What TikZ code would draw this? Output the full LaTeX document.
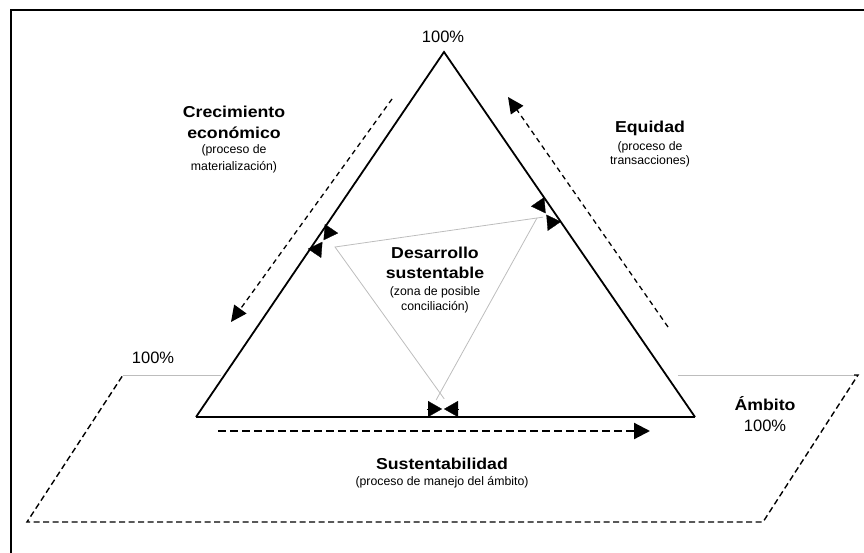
\documentclass[tikz,border=0pt]{standalone}
\usepackage{fontspec}
\setmainfont{Liberation Sans}
\newfontfamily\widebold[FakeStretch=1.12]{Liberation Sans Bold}
\usetikzlibrary{arrows.meta,calc}
\definecolor{lightline}{HTML}{BDBDBD}
\tikzset{
  frameline/.style={line width=2pt,line cap=rect},
  mainside/.style={line width=1.8pt,line join=miter},
  inner/.style={draw=lightline,line width=0.8pt},
  plane/.style={line width=1.4pt,dash pattern=on 6pt off 3.5pt},
  planetop/.style={draw=lightline,line width=0.9pt},
  dasharrow/.style={line width=1.3pt,dash pattern=on 5pt off 4pt,-{Triangle[length=16pt,width=15pt]}},
  basearrow/.style={line width=2.2pt,dash pattern=on 8pt off 4pt,-{Triangle[length=16pt,width=16pt]}},
  pairtip/.style={line width=0.3pt,-{Triangle[length=14pt,width=16pt]}},
  head/.style={anchor=base,font=\widebold\fontsize{15.8}{18}\selectfont},
  sub/.style={anchor=base,font=\fontsize{12.3}{14}\selectfont},
  pct/.style={anchor=base,font=\fontsize{16.5}{18}\selectfont}
}
\begin{document}
\begin{tikzpicture}[x=1pt,y=1pt]
\useasboundingbox (0,0) rectangle (864,552);
% frame
\coordinate (f1) at (11,0);
\coordinate (f2) at (11,542);
\coordinate (f3) at (864,542);
\draw[frameline] (f1) -- (f2) -- (f3);
% plane
\coordinate (p1) at (123,177);
\coordinate (p2) at (27,30);
\coordinate (p3) at (763,30);
\coordinate (p4) at (858,177);
\coordinate (pl) at (221,177);
\coordinate (pr) at (678,177);
\draw[planetop] (p1) -- (pl);
\draw[planetop] (pr) -- (p4);
\draw[plane] ($(p4)+(-4,0)$) -- (p4) -- (p3) -- (p2) -- (p1);
% main triangle
\coordinate (A) at (444,500);
\coordinate (B) at (196,135);
\coordinate (C) at (695,135);
\draw[mainside] (B) -- (A) -- (C);
\draw[line width=2.6pt] (B) -- (C);
% inner triangle
\coordinate (L) at (335,305);
\coordinate (R) at (537,334);
\coordinate (D) at (440,159);
\draw[inner] ($(D)!-0.04!(L)$) -- (L) -- ($(L)!1.03!(R)$);
\draw[inner] ($(D)!-0.04!(R)$) -- (R);
% arrow pairs
\coordinate (lp1) at (331.5,323.4);
\coordinate (lt1) at (323.6,311.8);
\coordinate (lp2) at (314.5,298.6);
\coordinate (lt2) at (322.4,310.2);
\draw[pairtip] (lp1) -- (lt1);
\draw[pairtip] (lp2) -- (lt2);
\coordinate (rp1) at (537.6,350.3);
\coordinate (rt1) at (545.6,338.7);
\coordinate (rp2) at (554.4,325.7);
\coordinate (rt2) at (546.4,337.3);
\draw[pairtip] (rp1) -- (rt1);
\draw[pairtip] (rp2) -- (rt2);
\coordinate (bp1) at (427,143);
\coordinate (bt1) at (442,143);
\coordinate (bp2) at (459,143);
\coordinate (bt2) at (444,143);
\draw[pairtip] (bp1) -- (bt1);
\draw[pairtip] (bp2) -- (bt2);
% dashed process arrows
\coordinate (ls) at (392,453);
\coordinate (le) at (231,230);
\draw[dasharrow] (ls) -- (le);
\coordinate (rs) at (668,225);
\coordinate (re) at (508,455);
\draw[dasharrow] (rs) -- (re);
\coordinate (bs) at (218,121);
\coordinate (be) at (650,121);
\draw[basearrow] (bs) -- (be);
% texts
\node[pct] (top) at (443,509) {100\%};
\node[head] (cre1) at (234,434) {Crecimiento};
\node[head] (cre2) at (234,413) {económico};
\node[sub] (cre3) at (234,398) {(proceso de};
\node[sub] (cre4) at (234,381) {materialización)};
\node[head] (equ1) at (650,419) {Equidad};
\node[sub] (equ2) at (650,401) {(proceso de};
\node[sub] (equ3) at (650,387) {transacciones)};
\node[head] (des1) at (435,293) {Desarrollo};
\node[head] (des2) at (435,273) {sustentable};
\node[sub] (des3) at (435,256) {(zona de posible};
\node[sub] (des4) at (435,241.5) {conciliación)};
\node[pct] (left) at (153,189) {100\%};
\node[head] (amb1) at (765,142) {Ámbito};
\node[pct] (amb2) at (765,120.5) {100\%};
\node[head] (sus1) at (442,83) {Sustentabilidad};
\node[sub] (sus2) at (442,67) {(proceso de manejo del ámbito)};
\end{tikzpicture}
\end{document}
